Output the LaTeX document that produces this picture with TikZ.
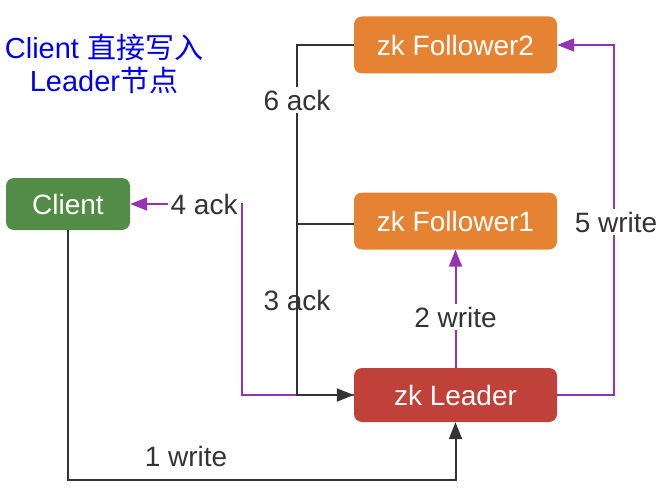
\documentclass[tikz,border=0pt]{standalone}
\usepackage{fontspec}
\setmainfont{Liberation Sans}
\newfontfamily\cjk{Noto Sans CJK SC}
\usetikzlibrary{arrows.meta,positioning,calc}
\definecolor{clientgreen}{RGB}{82,140,70}
\definecolor{zkorange}{RGB}{230,131,50}
\definecolor{zkred}{RGB}{192,64,58}
\definecolor{linegray}{RGB}{51,51,51}
\definecolor{writepurple}{RGB}{148,52,176}
\definecolor{titleblue}{RGB}{0,0,238}
\tikzstyle{arrow} = [line width=2pt,-{Triangle[length=17pt,width=13pt]},linegray]
\tikzstyle{purplearrow} = [arrow,writepurple]
\begin{document}
\begin{tikzpicture}[x=1pt,y=-1pt,
        zkbox/.style={rectangle,rounded corners=8pt,text=white,minimum width=203pt,minimum height=57pt,font=\fontsize{28}{32}\selectfont},
        lbl/.style={text=linegray,inner sep=3pt,font=\fontsize{28}{32}\selectfont},]
        \useasboundingbox (0,0) rectangle (672,500);
        % \node [style] (name) at (x,y) {text};
        \node[zkbox,fill=clientgreen,minimum width=124pt,minimum height=52pt] (client) at (68,204) {Client};
        \node[zkbox,fill=zkorange] (follower2) at (455.5,45) {zk Follower2};
        \node[zkbox,fill=zkorange] (follower1) at (455.5,221) {zk Follower1};
        \node[zkbox,fill=zkred,minimum height=54pt] (leader) at (455.5,395) {zk Leader};
        \node[titleblue,align=center,font=\fontsize{29}{33}\selectfont] (title) at (104,64) {Client {\cjk 直接写入}\\Leader{\cjk 节点}};

        % Client -> Leader (1 write)
        \draw[arrow] (client.south) |- ($(leader.south)+(0,58)$) -- (leader.south);
        \node[lbl] (w1) at (186,456) {1 write};

        % Leader -> Follower1 (2 write)
        \draw[purplearrow] (leader.north) -- node[lbl,fill=white,pos=0.43] (w2) {2 write} (follower1.south);

        % Leader -> Client (4 ack)
        \draw[purplearrow] (leader.west) -| ($(client.east)+(112,0)$) -- node[lbl,fill=white,pos=0.34] (a4) {4 ack} (client.east);

        % Leader -> Follower2 (5 write)
        \draw[purplearrow] (leader.east) -| ($(follower2.east)+(57,0)$) -- (follower2.east);
        \node[lbl,fill=white] (w5) at (616,222) {5 write};

        % Follower1 -> Leader (3 ack), Follower2 -> Leader (6 ack)
        \coordinate (ackbus) at (297,0);
        \draw[arrow] (follower2.west) -- (follower2.west -| ackbus) |- (leader.west);
        \draw[arrow,-] (follower1.west) ++(0,3) -- ($(follower1.west -| ackbus)+(0,3)$);
        \node[lbl,fill=white] (a6) at (297,100) {6 ack};
        \node[lbl] (a3) at (297,300) {3 ack};
    \end{tikzpicture}
\end{document}
